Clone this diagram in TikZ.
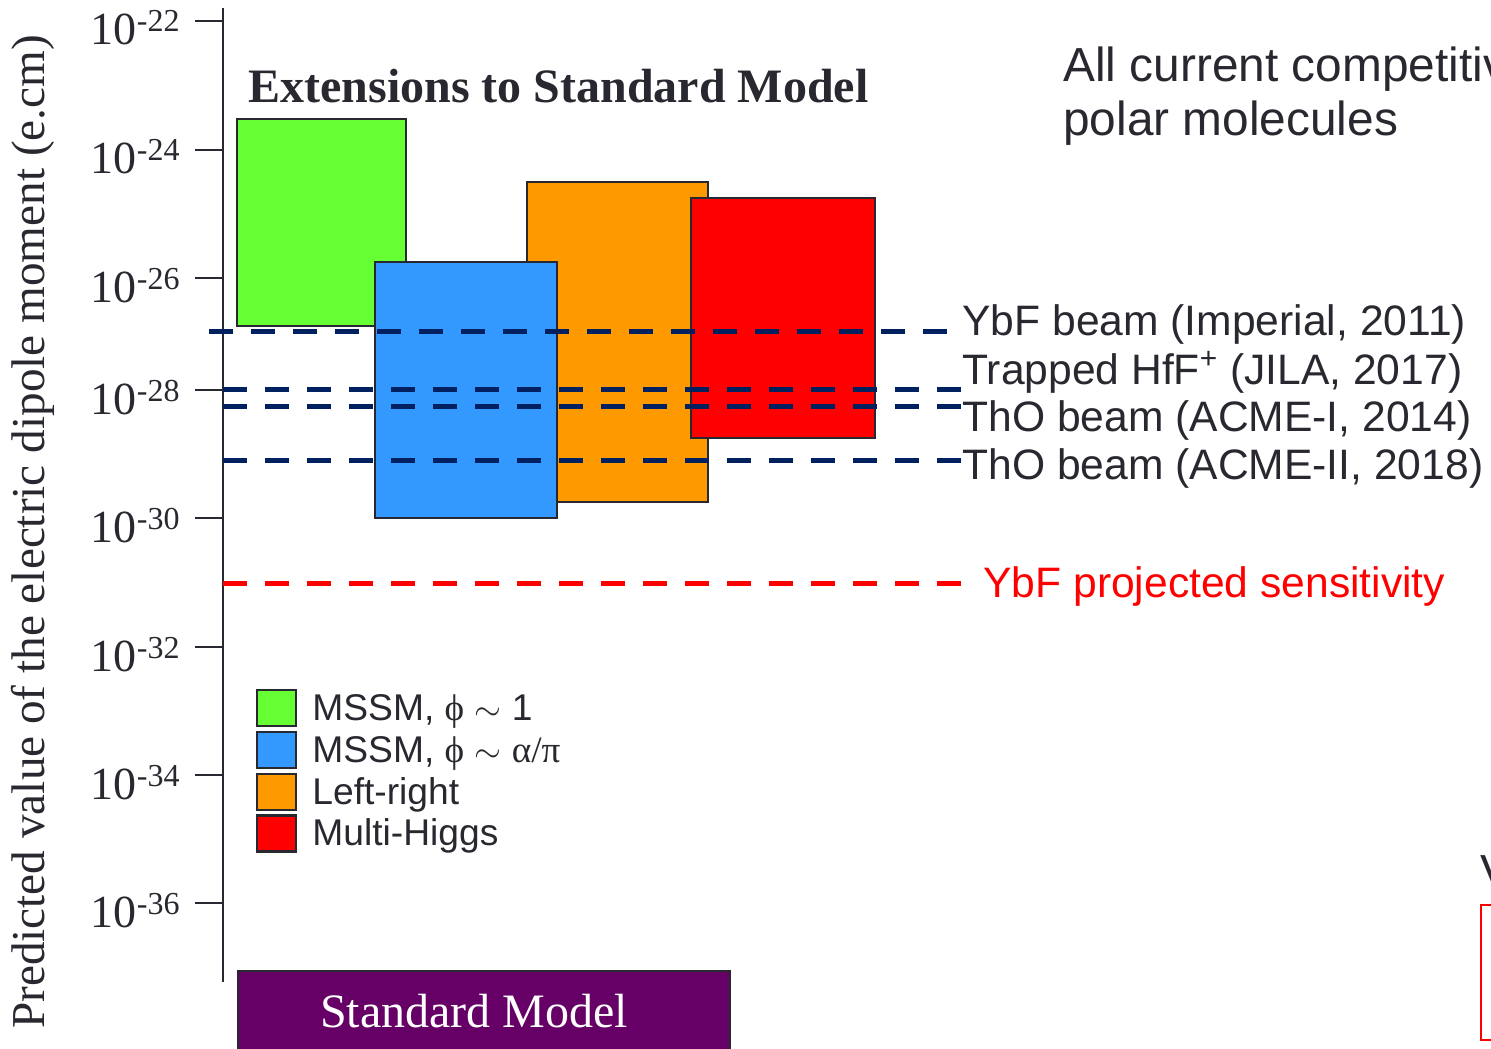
\documentclass[tikz,border=0pt]{standalone}
\usepackage{fontspec}
\setmainfont{Liberation Serif}
\setsansfont{Liberation Sans}
\usetikzlibrary{positioning}
\definecolor{inkgray}{RGB}{40,40,48}
\definecolor{edmnavy}{RGB}{0,32,96}
\definecolor{mssmgreen}{RGB}{102,255,51}
\definecolor{mssmblue}{RGB}{51,153,255}
\definecolor{lrorange}{RGB}{255,153,0}
\definecolor{smpurple}{RGB}{102,0,102}
\newcommand{\tenpow}[1]{{\fontsize{23}{26}\selectfont 10}\raisebox{6.5pt}{\fontsize{16}{19}\selectfont #1}}
\tikzset{
  model/.style={draw=inkgray, line width=1.2pt},
  axisline/.style={draw=inkgray, line width=1pt},
  limit/.style={line width=2.5pt, dash pattern=on 12pt off 9pt},
  explabel/.style={anchor=base west, inner sep=0pt, text=inkgray, font=\sffamily\fontsize{21.3}{24}\selectfont},
  legbox/.style={model, minimum width=19.5pt, minimum height=18pt, inner sep=0pt},
  legtext/.style={anchor=base west, inner sep=0pt, text=inkgray, font=\sffamily\fontsize{18.6}{22}\selectfont},
}
\begin{document}
\begin{tikzpicture}[x=0.5pt, y=-0.5pt]
  \useasboundingbox (0,0) rectangle (1491,1048);

  % axis and ticks
  \draw[axisline] (223,8) -- (223,982);
  \foreach \ty/\ex in {21/-22,150/-24,278/-26,390/-28,518/-30,647/-32,775/-34,903/-36}{
    \draw[axisline] (195,\ty) -- (223,\ty);
    \node[anchor=base east, inner sep=0pt, text=inkgray] (tick\ty) at (180,\ty+24) {\tenpow{\ex}};
  }
  \node[rotate=90, text=inkgray, font=\fontsize{23.6}{28}\selectfont] (ylabel) at (33,532)
    {Predicted value of the electric dipole moment (e.cm)};

  % model ranges
  \node[anchor=base west, inner sep=0pt, text=inkgray, font=\bfseries\fontsize{24}{28}\selectfont] (title)
    at (248,103) {Extensions to Standard Model};
  \draw[model, fill=mssmgreen] (237,119) rectangle (406,326);
  \draw[model, fill=lrorange] (527,182) rectangle (708,502);
  \draw[model, fill=mssmblue] (375,262) rectangle (557,518);
  \draw[model, fill=red] (691,198) rectangle (875,438);

  % experimental limits
  \node[explabel] (ybf) at (962,335) {YbF beam (Imperial, 2011)};
  \node[explabel] (hff) at (962,384) {Trapped HfF\textsuperscript{+} (JILA, 2017)};
  \node[explabel] (acmeI) at (962,431) {ThO beam (ACME-I, 2014)};
  \node[explabel] (acmeII) at (962,479) {ThO beam (ACME-II, 2018)};
  \node[explabel, text=red] (proj) at (983,597) {YbF projected sensitivity};
  \coordinate (s1) at (209,331);
  \coordinate (s2) at (223,389);
  \coordinate (s3) at (223,406);
  \coordinate (s4) at (223,460);
  \coordinate (s5) at (223,583);
  \draw[limit, edmnavy] (s1) -- (s1 -| ybf.west);
  \draw[limit, edmnavy] (s2) -- (s2 -| hff.west);
  \draw[limit, edmnavy] (s3) -- (s3 -| acmeI.west);
  \draw[limit, edmnavy] (s4) -- (s4 -| acmeII.west);
  \draw[limit, red] (s5) -- (s5 -| acmeII.west);

  % legend
  \foreach \ly/\lc/\lt in {708/mssmgreen/{MSSM, {\rmfamily ϕ} $\sim$ 1},
                           750/mssmblue/{MSSM, {\rmfamily ϕ} $\sim$ {\rmfamily α/π}},
                           792/lrorange/Left-right,
                           833.5/red/Multi-Higgs}{
    \node[legbox, fill=\lc] (leg\ly) at (276.5,\ly) {};
    \node[legtext] at (312,\ly+12) {\lt};
  }

  % standard model
  \draw[model, fill=smpurple] (238,971) rectangle (730,1060);
  \node[anchor=base, text=white, font=\fontsize{24}{28}\selectfont] (sm) at (474,1027) {Standard Model};

  % right-hand text
  \node[anchor=base west, inner sep=0pt, text=inkgray, font=\sffamily\fontsize{23.9}{28}\selectfont] (allcur)
    at (1063,82) {All current competitive};
  \node[anchor=base west, inner sep=0pt, text=inkgray, font=\sffamily\fontsize{23.9}{28}\selectfont] (polar)
    at (1063,136) {polar molecules};
  \node[anchor=base west, inner sep=0pt, text=inkgray, font=\sffamily\fontsize{23.9}{28}\selectfont] (wcut)
    at (1480,888) {V};
  \draw[red, line width=1pt] (1530,905) -- (1481,905) -- (1481,1040) -- (1530,1040);
\end{tikzpicture}
\end{document}
